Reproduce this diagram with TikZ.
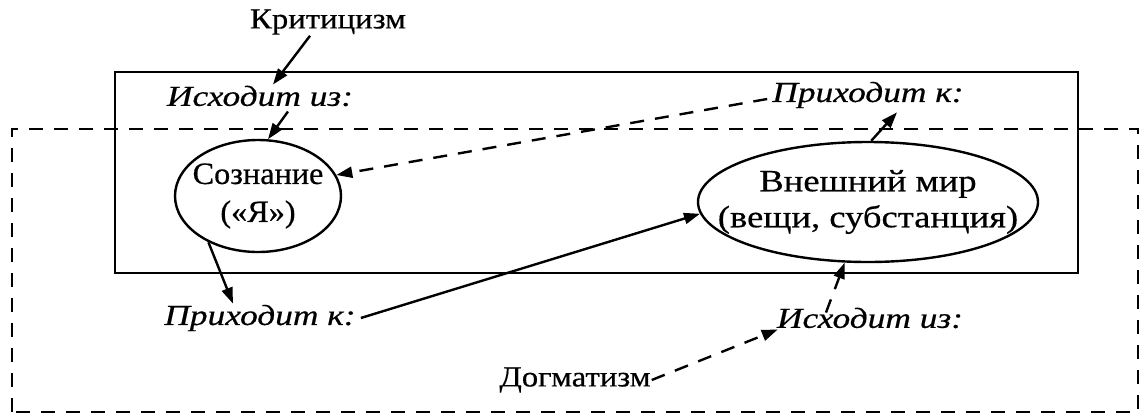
\documentclass[tikz,border=0pt]{standalone}
\usepackage{fontspec}
\setmainfont{Liberation Serif}
\newfontfamily\upf{Liberation Serif}[FakeStretch=1.13,FakeBold=0.5]
\newfontfamily\itf{Liberation Serif}[FakeStretch=1.22,FakeBold=0.5]
\newfontfamily\elfa{Liberation Serif}[FakeStretch=1.04,FakeBold=0.5]
\newfontfamily\elfb{Liberation Serif}[FakeStretch=1.18,FakeBold=0.5]
\usetikzlibrary{arrows.meta,shapes.geometric}
\begin{document}
\begin{tikzpicture}[x=1pt,y=-1pt,
  lw/.style={line width=2.4pt},
  arr/.style={lw,-{Triangle[length=16pt,width=11pt]}},
  darr/.style={arr,dash pattern=on 14pt off 11pt},
  lbl/.style={inner sep=1pt,font=\upf\fontsize{29}{34}\selectfont},
  ilbl/.style={inner sep=1pt,font=\itf\fontsize{29}{34}\selectfont\itshape},
  ell/.style={ellipse,draw,lw,inner sep=-60pt,align=center}]
\useasboundingbox (0,0) rectangle (1141,416);
\draw[lw] (115,72) rectangle (1078,273);
\draw[lw,dash pattern=on 14pt off 11pt] (12,412) -- (12,129) -- (1138,129) -- (1138,412) -- cycle;
\node[lbl] (krit) at (328,22) {Критицизм};
\node[ilbl] (isx1) at (260,96) {Исходит из:};
\node[ilbl] (prik1) at (868,95) {Приходит к:};
\node[ell,minimum width=166pt,minimum height=112pt,font=\elfa\fontsize{31}{38}\selectfont] (soz) at (258,196) {Сознание\\(«Я»)};
\node[ell,minimum width=340pt,minimum height=120pt,font=\elfb\fontsize{31}{36}\selectfont] (vm) at (868,202) {Внешний мир\\(вещи, субстанция)};
\node[ilbl] (prik2) at (260,318) {Приходит к:};
\node[ilbl] (isx2) at (870,318) {Исходит из:};
\node[lbl] (dog) at (575,380) {Догматизм};
\draw[arr] ([xshift=-18pt]krit.south) -- ([xshift=13pt]isx1.north);
\draw[arr] ([xshift=28pt,yshift=-4pt]isx1.south) -- (soz.80);
\draw[arr] (soz.223) -- ([xshift=-27pt]prik2.north);
\draw[arr] ([xshift=4pt]prik2.east) -- (vm.184);
\draw[arr] (vm.87) -- ([xshift=29pt,yshift=-3pt]prik1.south);
\draw[darr] ([xshift=-4pt,yshift=-4pt]prik1.west) -- (soz.15);
\draw[darr] ([xshift=-44pt,yshift=-6pt]isx2.north) -- (vm.249);
\draw[darr] (dog.east) -- ([xshift=2pt]isx2.south west);
\end{tikzpicture}
\end{document}
